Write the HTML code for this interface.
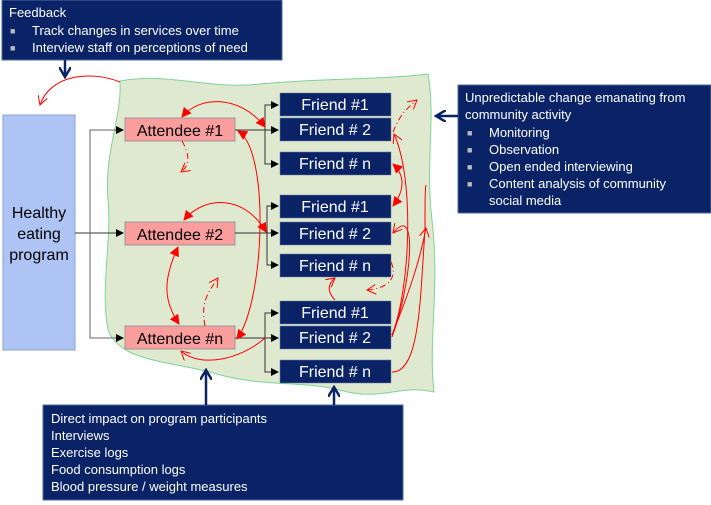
<!DOCTYPE html>
<html><head><meta charset="utf-8"><style>
html,body{margin:0;padding:0;background:#fff;width:711px;height:505px;overflow:hidden}
svg{display:block}
.bt{font-family:"Liberation Sans",sans-serif;font-size:13px;fill:#fff}
.bl{font-family:"Liberation Sans",sans-serif;font-size:9px;fill:#bbb}
.nb{font-family:"Liberation Sans",sans-serif;font-size:16px;fill:#fff;text-anchor:middle}
.at{font-family:"Liberation Sans",sans-serif;font-size:16px;fill:#000;text-anchor:middle}
</style></head><body>
<svg width="711" height="505" viewBox="0 0 711 505" xmlns="http://www.w3.org/2000/svg">
<defs>
<marker id="ak" markerWidth="8" markerHeight="8" refX="7" refY="4" orient="auto" markerUnits="userSpaceOnUse"><path d="M0,0 L8,4 L0,8 z" fill="#000"/></marker>
<marker id="ar" markerWidth="10" markerHeight="10" refX="9" refY="5" orient="auto-start-reverse" markerUnits="userSpaceOnUse"><path d="M0,0 L10,5 L0,10 z" fill="#f00"/></marker>
<marker id="ao" markerWidth="10" markerHeight="10" refX="9" refY="5" orient="auto" markerUnits="userSpaceOnUse"><path d="M0,0 L9,5 L0,10" fill="none" stroke="#f00" stroke-width="1"/></marker>
<marker id="ab" markerWidth="12" markerHeight="12" refX="10" refY="6" orient="auto" markerUnits="userSpaceOnUse"><path d="M0,0 L10,6 L0,12" fill="none" stroke="#0a2366" stroke-width="2.5"/></marker>
</defs>
<path d="M120,81 C170,72 210,90 260,84 C320,78 380,80 428,74 C436,120 425,160 432,220 C440,290 428,340 434,392 C400,384 380,402 340,390 C300,380 260,388 210,372 C160,360 120,360 108,330 C100,290 112,240 108,200 C104,150 122,120 120,81 Z" fill="#dfe9cf" stroke="#7fd39a" stroke-width="1"/>
<rect x="2" y="0" width="280" height="60" fill="#0a2366" stroke="#4a6aa0"/>
<text class="bt" x="9" y="17">Feedback</text>
<text class="bl" x="10" y="34">■</text>
<text class="bt" x="32" y="35">Track changes in services over time</text>
<text class="bl" x="10" y="51">■</text>
<text class="bt" x="32" y="52">Interview staff on perceptions of need</text>
<line x1="65" y1="60" x2="65" y2="77" stroke="#0a2366" stroke-width="2.5" marker-end="url(#ab)"/>
<rect x="3" y="115" width="72" height="235" fill="#adc4f5" stroke="#8aa0cf"/>
<text class="at" x="39" y="218" font-size="17">Healthy</text>
<text class="at" x="39" y="239" font-size="17">eating</text>
<text class="at" x="39" y="260" font-size="17">program</text>
<path d="M75,233 L123,233" stroke="#333" fill="none" marker-end="url(#ak)"/>
<path d="M90,233 L90,130 L123,130 M90,233 L90,338 L123,338" stroke="#666" fill="none"/>
<path d="M115,130 L123,130" stroke="#333" marker-end="url(#ak)"/>
<path d="M115,338 L123,338" stroke="#333" marker-end="url(#ak)"/>
<rect x="125" y="118" width="110" height="23" fill="#fa9d9d" stroke="#999"/>
<text class="at" x="180" y="136">Attendee #1</text>
<rect x="125" y="222" width="110" height="23" fill="#fa9d9d" stroke="#999"/>
<text class="at" x="180" y="240">Attendee #2</text>
<rect x="125" y="326" width="110" height="23" fill="#fa9d9d" stroke="#999"/>
<text class="at" x="180" y="344">Attendee #n</text>
<g stroke="#333" fill="none">
<path d="M235,130 L278,130" marker-end="url(#ak)"/>
<path d="M265,130 L265,105 L278,105" marker-end="url(#ak)"/>
<path d="M265,130 L265,164 L278,164" marker-end="url(#ak)"/>
<path d="M235,233 L278,233" marker-end="url(#ak)"/>
<path d="M267,233 L267,206 L278,206" marker-end="url(#ak)"/>
<path d="M267,233 L267,265 L278,265" marker-end="url(#ak)"/>
<path d="M235,338 L278,338" marker-end="url(#ak)"/>
<path d="M265,338 L265,313 L278,313" marker-end="url(#ak)"/>
<path d="M265,338 L265,372 L278,372" marker-end="url(#ak)"/>
</g>
<g fill="#0a2366" stroke="#6b7fa8" stroke-width="0.5">
<rect x="280" y="93" width="111" height="23"/><rect x="280" y="118" width="111" height="23"/><rect x="280" y="152" width="111" height="23"/>
<rect x="280" y="195" width="111" height="23"/><rect x="280" y="222" width="111" height="23"/><rect x="280" y="254" width="111" height="23"/>
<rect x="280" y="301" width="111" height="23"/><rect x="280" y="326" width="111" height="23"/><rect x="280" y="360" width="111" height="23"/>
</g>
<text class="nb" x="335" y="110">Friend #1</text>
<text class="nb" x="335" y="135">Friend # 2</text>
<text class="nb" x="335" y="169">Friend # n</text>
<text class="nb" x="335" y="212">Friend #1</text>
<text class="nb" x="335" y="239">Friend # 2</text>
<text class="nb" x="335" y="271">Friend # n</text>
<text class="nb" x="335" y="318">Friend #1</text>
<text class="nb" x="335" y="343">Friend # 2</text>
<text class="nb" x="335" y="377">Friend # n</text>
<g stroke="#f00" fill="none" stroke-width="1">
<path d="M120,82 C90,70 50,75 40,105" marker-end="url(#ao)"/>
<path d="M182,117 C200,95 240,95 265,127" marker-start="url(#ar)" marker-end="url(#ar)"/>
<path d="M182,141 C190,155 190,165 181,172" stroke-dasharray="6,3,1,3" marker-end="url(#ao)"/>
<path d="M238,131 C270,150 265,300 237,339" marker-start="url(#ar)" marker-end="url(#ar)"/>
<path d="M184,220 C205,195 245,195 266,232" marker-start="url(#ar)" marker-end="url(#ar)"/>
<path d="M178,247 C163,280 163,300 179,324" marker-start="url(#ar)" marker-end="url(#ar)"/>
<path d="M205,326 C200,300 210,290 218,278" stroke-dasharray="6,3,1,3" marker-end="url(#ao)"/>
<path d="M265,338 C240,360 200,368 181,351" marker-end="url(#ao)"/>
<path d="M393,132 C400,115 405,110 417,100" stroke-dasharray="6,3,1,3" marker-end="url(#ao)"/>
<path d="M393,164 C405,175 405,190 393,206" marker-start="url(#ar)" marker-end="url(#ar)"/>
<path d="M392,335 C410,290 415,180 394,134" marker-end="url(#ao)"/>
<path d="M392,337 C410,290 420,200 393,233" marker-end="url(#ao)"/>
<path d="M392,372 C420,372 420,300 425,230 C425,200 425,190 426,185"/>
<path d="M392,335 C410,290 420,260 426,228" marker-end="url(#ao)"/>
<path d="M391,262 C397,275 392,288 367,290" stroke-dasharray="6,3,1,3" marker-end="url(#ao)"/>
<path d="M335,300 C325,290 330,282 335,278" marker-end="url(#ao)"/>
</g>
<rect x="458" y="85" width="253" height="128" fill="#0a2366" stroke="#4a6aa0"/>
<text class="bt" x="465" y="102">Unpredictable change emanating from</text>
<text class="bt" x="465" y="119">community activity</text>
<text class="bl" x="467" y="136">■</text><text class="bl" x="467" y="153">■</text><text class="bl" x="467" y="170">■</text><text class="bl" x="467" y="187">■</text>
<text class="bt" x="489" y="137">Monitoring</text>
<text class="bt" x="489" y="154">Observation</text>
<text class="bt" x="489" y="171">Open ended interviewing</text>
<text class="bt" x="489" y="188">Content analysis of community</text>
<text class="bt" x="489" y="205">social media</text>
<line x1="458" y1="116" x2="436" y2="116" stroke="#0a2366" stroke-width="2.5" marker-end="url(#ab)"/>
<rect x="43" y="405" width="360" height="95" fill="#0a2366" stroke="#4a6aa0"/>
<text class="bt" x="51" y="423">Direct impact on program participants</text>
<text class="bt" x="51" y="440">Interviews</text>
<text class="bt" x="51" y="457">Exercise logs</text>
<text class="bt" x="51" y="474">Food consumption logs</text>
<text class="bt" x="51" y="491">Blood pressure / weight measures</text>
<line x1="206" y1="405" x2="206" y2="370" stroke="#0a2366" stroke-width="2.5" marker-end="url(#ab)"/>
<line x1="334" y1="405" x2="334" y2="387" stroke="#0a2366" stroke-width="2.5" marker-end="url(#ab)"/>
</svg>
</body></html>
